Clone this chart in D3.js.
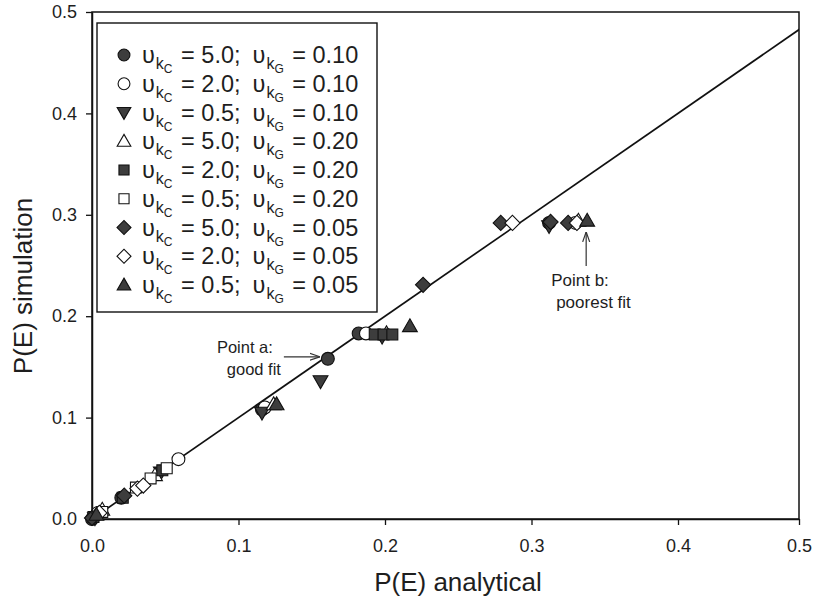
<!DOCTYPE html>
<html>
<head>
<meta charset="utf-8">
<script src="https://cdn.jsdelivr.net/npm/d3@7"></script>
<style>
  html, body { margin: 0; padding: 0; background: #fff; }
  svg { display: block; font-family: "Liberation Sans", Arial, sans-serif; }
</style>
</head>
<body>
<svg id="chart" width="816" height="600"></svg>
<script>
// ---------- data ----------
const xTicks = [0.0, 0.1, 0.2, 0.3, 0.4, 0.5];
const yTicks = [0.0, 0.1, 0.2, 0.3, 0.4, 0.5];
const xTitle = "P(E) analytical";
const yTitle = "P(E) simulation";

const kcValues = ["5.0", "2.0", "0.5", "5.0", "2.0", "0.5", "5.0", "2.0", "0.5"];
const kgValues = ["0.10", "0.10", "0.10", "0.20", "0.20", "0.20", "0.05", "0.05", "0.05"];
const markerShapes = ["circle", "circle", "triDown", "triUp", "square", "square", "diamond", "diamond", "triUp"];
const markerFilled = [true, false, true, false, true, false, true, false, true];

// each series: [P(E) analytical, P(E) simulation]
const s1 = [[0.000, 0.000], [0.020, 0.021], [0.116, 0.108], [0.161, 0.158], [0.182, 0.183], [0.312, 0.292]];
const s2 = [[0.004, 0.006], [0.059, 0.059], [0.118, 0.110], [0.187, 0.183], [0.330, 0.292]];
const s3 = [[0.002, 0.001], [0.047, 0.046], [0.116, 0.105], [0.156, 0.136], [0.198, 0.180], [0.312, 0.289]];
const s4 = [[0.007, 0.009], [0.043, 0.043], [0.124, 0.113], [0.201, 0.183], [0.332, 0.294]];
const s5 = [[0.001, 0.002], [0.021, 0.021], [0.048, 0.048], [0.193, 0.182], [0.199, 0.182], [0.205, 0.182]];
const s6 = [[0.007, 0.007], [0.030, 0.031], [0.040, 0.040], [0.051, 0.050]];
const s7 = [[0.000, 0.001], [0.022, 0.023], [0.226, 0.231], [0.279, 0.292], [0.313, 0.293], [0.325, 0.292]];
const s8 = [[0.005, 0.006], [0.031, 0.030], [0.035, 0.033], [0.287, 0.292], [0.331, 0.292]];
const s9 = [[0.003, 0.004], [0.126, 0.113], [0.217, 0.190], [0.338, 0.294]];
const seriesPoints = [s1, s2, s3, s4, s5, s6, s7, s8, s9];

// 1:1 reference line
const lineX = [0.0, 0.5];
const lineY = [0.0, 0.5];

// annotations: [series index, point index]
const annotA = { series: 0, point: 3, lines: ["Point a:", "good fit"] };
const annotB = { series: 8, point: 3, lines: ["Point b:", "poorest fit"] };

// ---------- layout ----------
const svg = d3.select("#chart");
const pLeft = 92, pRight = 799, pTop = 12, pBottom = 519;
const fillCol = "#3d3d3d", inkCol = "#111", textCol = "#1e1e1e";

const x = d3.scaleLinear().domain([0, 0.4, 0.5]).range([pLeft, 678, pRight]);
const xLine = d3.scaleLinear().domain([0, 0.4]).range([pLeft, 678]);
const y = d3.scaleLinear().domain([0, 0.5]).range([pBottom, pTop]);

const defs = svg.append("defs");
defs.append("clipPath").attr("id", "plotclip")
  .append("rect").attr("x", pLeft).attr("y", pTop).attr("width", pRight - pLeft).attr("height", pBottom - pTop);
defs.append("marker").attr("id", "arrow").attr("viewBox", "0 0 10 10")
  .attr("refX", 10).attr("refY", 5).attr("markerWidth", 10).attr("markerHeight", 10)
  .attr("markerUnits", "userSpaceOnUse").attr("orient", "auto")
  .append("path").attr("d", "M0,1.5 L10,5 L0,8.5").attr("fill", "none").attr("stroke", "#333").attr("stroke-width", 1.2);

// frame
svg.append("rect").attr("x", pLeft).attr("y", pTop).attr("width", pRight - pLeft).attr("height", pBottom - pTop)
  .attr("fill", "none").attr("stroke", inkCol).attr("stroke-width", 1.5);

// axes
const xAxis = d3.axisBottom(x).tickValues(xTicks).tickFormat(d3.format(".1f")).tickSize(6).tickSizeOuter(0);
const gx = svg.append("g").attr("transform", `translate(0,${pBottom})`).call(xAxis);
gx.select(".domain").attr("stroke", inkCol).attr("stroke-width", 1.5);
gx.selectAll(".tick line").attr("stroke", inkCol).attr("stroke-width", 1.3);
gx.selectAll(".tick text").attr("font-size", 18).attr("fill", textCol).attr("y", 20).attr("dy", "0.71em")
  .attr("font-family", "Liberation Sans, Arial, sans-serif");

const yAxis = d3.axisLeft(y).tickValues(yTicks).tickFormat(d3.format(".1f")).tickSize(6).tickSizeOuter(0);
const gy = svg.append("g").attr("transform", `translate(${pLeft},0)`).call(yAxis);
gy.select(".domain").attr("stroke", inkCol).attr("stroke-width", 1.5);
gy.selectAll(".tick line").attr("stroke", inkCol).attr("stroke-width", 1.3);
gy.selectAll(".tick text").attr("font-size", 18).attr("fill", textCol).attr("x", -15)
  .attr("font-family", "Liberation Sans, Arial, sans-serif");

// titles
svg.append("text").attr("x", 458).attr("y", 591).attr("text-anchor", "middle")
  .attr("font-size", 26).attr("fill", textCol).text(xTitle);
svg.append("text").attr("transform", "translate(32,286) rotate(-90)").attr("text-anchor", "middle")
  .attr("font-size", 26).attr("fill", textCol).text(yTitle);

// 1:1 line
const lineData = lineX.map((v, i) => [v, lineY[i]]);
svg.append("path").datum(lineData)
  .attr("clip-path", "url(#plotclip)")
  .attr("d", d3.line().x(d => xLine(d[0])).y(d => y(d[1])))
  .attr("fill", "none").attr("stroke", "#111").attr("stroke-width", 1.7);

// markers
function symbolPath(shape, scale) {
  const s = scale || 1;
  switch (shape) {
    case "circle": return d3.symbol(d3.symbolCircle, 130 * s)();
    case "triUp": return d3.symbol(d3.symbolTriangle, 95 * s)();
    case "triDown": return d3.symbol(d3.symbolTriangle, 95 * s)();
    case "square": return d3.symbol(d3.symbolSquare, 120 * s)();
    case "diamond": return d3.symbol(d3.symbolSquare, 115 * s)();
  }
}
function symbolRot(shape) {
  if (shape === "triDown") return 180;
  if (shape === "diamond") return 45;
  return 0;
}
function triShift(shape) {
  if (shape === "triUp") return 1;
  if (shape === "triDown") return -1;
  return 0;
}

const gPts = svg.append("g");
seriesPoints.forEach((pts, si) => {
  const shape = markerShapes[si];
  gPts.append("g").selectAll("path").data(pts).join("path")
    .attr("d", symbolPath(shape))
    .attr("transform", d => `translate(${x(d[0])},${y(d[1]) + triShift(shape)}) rotate(${symbolRot(shape)})`)
    .attr("fill", markerFilled[si] ? fillCol : "#fff")
    .attr("stroke", inkCol).attr("stroke-width", 1.1);
});

// legend
const lg = svg.append("g");
lg.append("rect").attr("x", 97).attr("y", 23).attr("width", 280).attr("height", 289)
  .attr("fill", "#fff").attr("stroke", inkCol).attr("stroke-width", 1.4);
const rowStep = 28.75, row0 = 55;
kcValues.forEach((kc, i) => {
  const ry = row0 + i * rowStep;
  const shape = markerShapes[i];
  lg.append("path").attr("d", symbolPath(shape, 0.85))
    .attr("transform", `translate(124,${ry + triShift(shape)}) rotate(${symbolRot(shape)})`)
    .attr("fill", markerFilled[i] ? fillCol : "#fff")
    .attr("stroke", inkCol).attr("stroke-width", 1.1);
  const t = lg.append("text").attr("x", 142).attr("y", ry + 8).attr("font-size", 23.5).attr("fill", textCol);
  t.append("tspan").text("υ");
  t.append("tspan").attr("font-size", 16).attr("dy", 6).attr("dx", 1).text("k");
  t.append("tspan").attr("font-size", 12).attr("dy", 4).text("C");
  t.append("tspan").attr("font-size", 23.5).attr("dy", -10).attr("dx", 2).text(` = ${kc};`);
  t.append("tspan").attr("dx", 12).text("υ");
  t.append("tspan").attr("font-size", 16).attr("dy", 6).attr("dx", 1).text("k");
  t.append("tspan").attr("font-size", 12).attr("dy", 4).text("G");
  t.append("tspan").attr("font-size", 23.5).attr("dy", -10).attr("dx", 2).text(` = ${kgValues[i]}`);
});

// annotations
const pa = seriesPoints[annotA.series][annotA.point];
const pax = x(pa[0]), pay = y(pa[1]);
svg.append("line").attr("x1", pax - 44).attr("y1", pay - 2).attr("x2", pax - 8).attr("y2", pay - 2)
  .attr("stroke", "#333").attr("stroke-width", 1.2).attr("marker-end", "url(#arrow)");
svg.append("text").attr("x", pax - 83).attr("y", pay - 6).attr("text-anchor", "middle")
  .attr("font-size", 16.5).attr("fill", textCol).text(annotA.lines[0]);
svg.append("text").attr("x", pax - 74).attr("y", pay + 16).attr("text-anchor", "middle")
  .attr("font-size", 16.5).attr("fill", textCol).text(annotA.lines[1]);

const pb = seriesPoints[annotB.series][annotB.point];
const pbx = x(pb[0]) - 1, pby = y(pb[1]);
svg.append("line").attr("x1", pbx).attr("y1", pby + 45).attr("x2", pbx).attr("y2", pby + 11)
  .attr("stroke", "#333").attr("stroke-width", 1.2).attr("marker-end", "url(#arrow)");
svg.append("text").attr("x", pbx - 35).attr("y", pby + 65)
  .attr("font-size", 17).attr("fill", textCol).text(annotB.lines[0]);
svg.append("text").attr("x", pbx - 30).attr("y", pby + 87)
  .attr("font-size", 17).attr("fill", textCol).text(annotB.lines[1]);
</script>
</body>
</html>
